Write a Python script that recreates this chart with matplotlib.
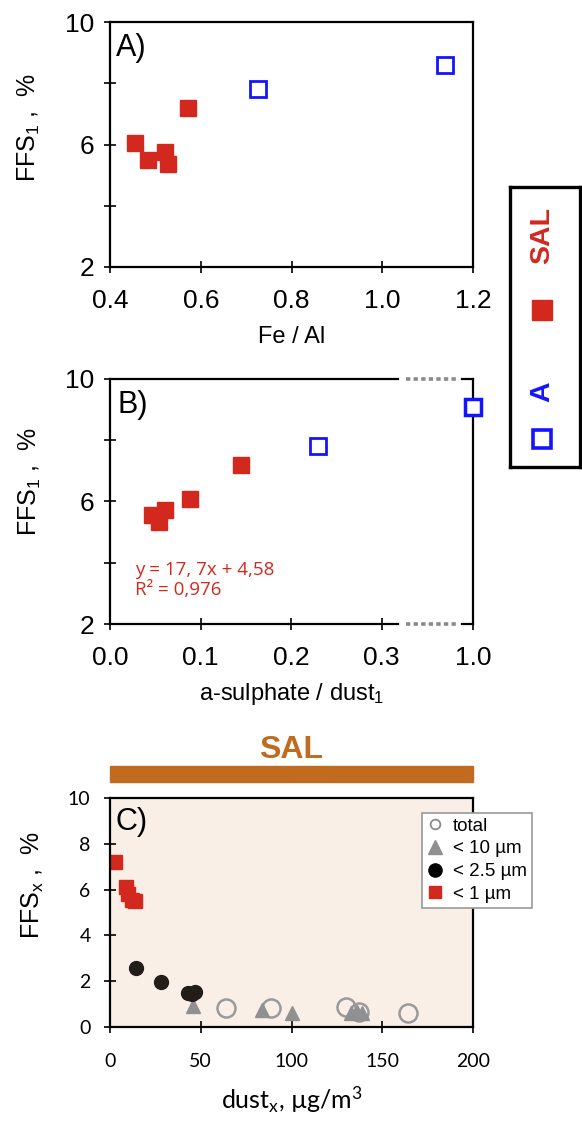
import numpy as np
import matplotlib
matplotlib.use("Agg")
import matplotlib.pyplot as plt
from matplotlib.lines import Line2D
from matplotlib.patches import Rectangle

plt.rcParams['font.family'] = ['Liberation Sans', 'DejaVu Sans']
plt.rcParams['mathtext.default'] = 'regular'

# panel A: FFS1 vs Fe/Al
fe_al_sal = [0.455, 0.484, 0.521, 0.528, 0.572]
ffs1_a_sal = [6.05, 5.5, 5.75, 5.36, 7.19]
fe_al_a = [0.726, 1.138]
ffs1_a_a = [7.81, 8.6]

# panel B: FFS1 vs a-sulphate / dust1
sulph_sal = [0.046, 0.054, 0.061, 0.088, 0.145]
ffs1_b_sal = [5.56, 5.33, 5.72, 6.08, 7.19]
sulph_a = [0.23, 1.0]
ffs1_b_a = [7.81, 9.08]
fit_text = "y = 17, 7x + 4,58\nR² = 0,976"

# panel C: FFSx vs dustx per size class
dust_total = [64, 88.5, 130, 137, 164]
ffs_total = [0.83, 0.83, 0.89, 0.67, 0.6]
dust_10 = [46, 84, 100, 133, 136, 139]
ffs_10 = [0.9, 0.74, 0.63, 0.6, 0.67, 0.6]
dust_25 = [14.5, 28, 43, 45, 47]
ffs_25 = [2.57, 1.98, 1.5, 1.45, 1.55]
dust_1 = [3, 9, 10, 12, 14]
ffs_1 = [7.2, 6.1, 5.8, 5.55, 5.5]

RED = '#d2281e'
BLUE = '#1414ff'
GRAY = '#909090'
ORANGE = '#c06b20'

W, H = 582, 1123
fig = plt.figure(figsize=(W / 100, H / 100), dpi=100)


def px_axes(x0, y0, x1, y1):
    return fig.add_axes([x0 / W, 1 - y1 / H, (x1 - x0) / W, (y1 - y0) / H])


def style(ax, size=19, xpad=12, ypad=7.5):
    for s in ax.spines.values():
        s.set_linewidth(1.6)
    ax.tick_params(which='both', direction='inout', length=8, width=1.2,
                   labelsize=size)
    ax.tick_params(axis='x', which='both', pad=xpad)
    ax.tick_params(axis='y', which='both', pad=ypad)


def ffs_yaxis(ax):
    ax.set_ylim(2, 10)
    ax.set_yticks([2, 6, 10])
    ax.set_yticks([4, 8], minor=True)


# ---- A
axA = px_axes(110, 22, 473, 267)
style(axA)
axA.plot(fe_al_sal, ffs1_a_sal, 's', color=RED, ms=11)
axA.plot(fe_al_a, ffs1_a_a, 's', mfc='white', mec=BLUE, mew=2, ms=11)
axA.set_xlim(0.4, 1.2)
axA.set_xticks(np.arange(0.4, 1.21, 0.2))
axA.xaxis.set_major_formatter(matplotlib.ticker.FormatStrFormatter('%.1f'))
ffs_yaxis(axA)
axA.set_xlabel('Fe / Al', fontsize=17, labelpad=9)
axA.set_ylabel('FFS$_1$ ,  %', fontsize=18)
axA.yaxis.set_label_coords(-0.186, 0.57)
axA.text(0.015, 0.895, 'A)', transform=axA.transAxes, fontsize=22, va='center')

# ---- B (broken x axis)
brk = 0.318
axB = px_axes(110, 379, 398, 624)
axB2 = px_axes(462, 379, 473, 624)
style(axB)
style(axB2)
sx = np.array(sulph_a)
sy = np.array(ffs1_b_a)
axB.plot(sulph_sal, ffs1_b_sal, 's', color=RED, ms=11)
axB.plot(sx[sx <= brk], sy[sx <= brk], 's', mfc='white', mec=BLUE, mew=2, ms=11)
axB2.plot(sx[sx > brk], sy[sx > brk], 's', mfc='white', mec=BLUE, mew=2.5, ms=12,
          clip_on=False, zorder=5)
axB.set_xlim(0, brk)
axB.set_xticks([0.0, 0.1, 0.2, 0.3])
axB.xaxis.set_major_formatter(matplotlib.ticker.FormatStrFormatter('%.1f'))
axB.spines['right'].set_visible(False)
ffs_yaxis(axB)
axB2.set_xlim(0.98, 1.0)
axB2.set_xticks([1.0])
axB2.set_xticklabels(['1.0'])
axB2.set_ylim(2, 10)
axB2.set_yticks([])
axB2.spines['left'].set_visible(False)
axB.set_xlabel('a-sulphate / dust$_1$', fontsize=17)
axB.xaxis.set_label_coords(363 / 2 / 288, -0.233)
axB.set_ylabel('FFS$_1$ ,  %', fontsize=18)
axB.yaxis.set_label_coords(-0.233, 0.58)
axB.text(0.025, 0.895, 'B)', transform=axB.transAxes, fontsize=22, va='center')
axB.text(0.087, 0.18, fit_text, transform=axB.transAxes, fontsize=13.5,
         color=RED, va='center', family='Open Sans', linespacing=1.2)
for yy in (379, 624):
    fig.add_artist(Line2D([406 / W, 456 / W], [1 - yy / H, 1 - yy / H],
                          color='#8a8a8a', lw=2.6, ls=(0, (1.2, 0.9))))

# ---- right legend (A / SAL)
axL = px_axes(510, 187, 580, 467)
axL.set_xticks([])
axL.set_yticks([])
for s in axL.spines.values():
    s.set_linewidth(2.4)
axL.text(0.46, 0.825, 'SAL', rotation=90, color=RED, fontsize=20.5,
         fontweight='bold', ha='center', va='center', transform=axL.transAxes)
axL.plot([0.46], [0.56], 's', color=RED, ms=14, transform=axL.transAxes)
axL.text(0.46, 0.27, 'A', rotation=90, color=BLUE, fontsize=20.5,
         fontweight='bold', ha='center', va='center', transform=axL.transAxes)
axL.plot([0.46], [0.10], 's', mfc='white', mec=BLUE, mew=2.6, ms=13,
         transform=axL.transAxes)

# ---- SAL bar
fig.add_artist(Rectangle((110 / W, 1 - 782 / H), 363 / W, 16 / H,
                         color=ORANGE, transform=fig.transFigure))
fig.text(291 / W, 1 - 750 / H, 'SAL', color=ORANGE, fontsize=23,
         fontweight='bold', ha='center', va='center')

# ---- C
axC = px_axes(110, 798, 473, 1027)
style(axC, size=14, xpad=15, ypad=10)
axC.set_facecolor('#f9efe7')
axC.plot(dust_total, ffs_total, 'o', mfc='none', mec='#9a9a9a', mew=1.8, ms=13)
axC.plot(dust_10, ffs_10, '^', color=GRAY, ms=10)
axC.plot(dust_25, ffs_25, 'o', color='#231d18', ms=10)
axC.plot(dust_1, ffs_1, 's', color=RED, ms=9.5)
axC.set_xlim(0, 200)
axC.set_ylim(0, 10)
axC.set_xticks([0, 50, 100, 150, 200])
axC.set_yticks([0, 2, 4, 6, 8, 10])
for lab in axC.get_xticklabels() + axC.get_yticklabels():
    lab.set_family('Lato')
axC.set_xlabel('dust$_x$, µg/m$^3$', fontsize=18, family='Lato', labelpad=10)
axC.set_ylabel('FFS$_x$ ,  %', fontsize=18)
axC.yaxis.set_label_coords(-0.176, 0.62)
axC.text(0.015, 0.895, 'C)', transform=axC.transAxes, fontsize=22, va='center')

handles = [
    Line2D([], [], ls='none', marker='o', mfc='none', mec='#8a8a8a', mew=1.3, ms=7),
    Line2D([], [], ls='none', marker='^', color=GRAY, ms=10),
    Line2D([], [], ls='none', marker='o', color='black', ms=9.5),
    Line2D([], [], ls='none', marker='s', color=RED, ms=9),
]
labels = ['total', '< 10 µm', '< 2.5 µm', '< 1 µm']
leg = axC.legend(handles, labels, loc='upper left', bbox_to_anchor=(0.86, 0.935),
                 fontsize=13.5, frameon=True, fancybox=False, framealpha=1,
                 edgecolor='#9a9a9a', handlelength=0.9, handletextpad=0.5,
                 labelspacing=0.3, borderpad=0.25, borderaxespad=0)
leg.get_frame().set_linewidth(1.2)
leg.set_zorder(10)

fig.savefig('out.png', dpi=100)
